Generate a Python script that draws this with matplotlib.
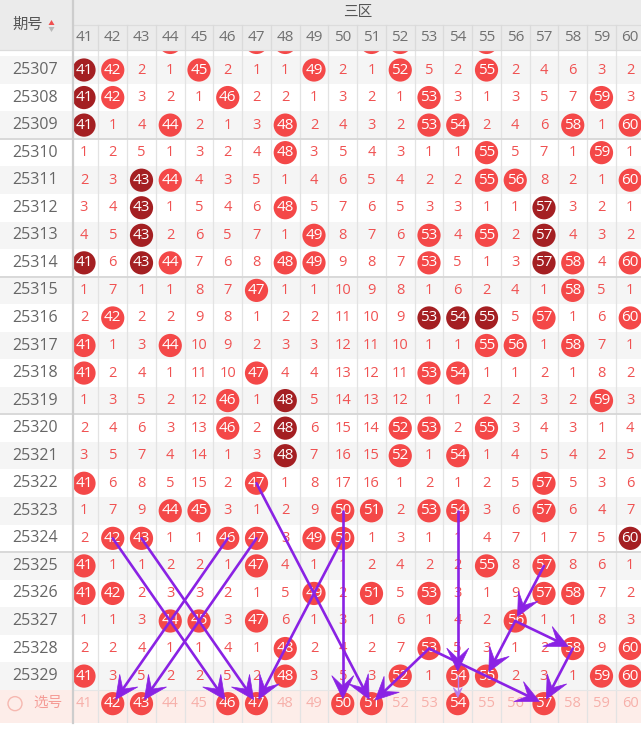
import matplotlib
matplotlib.use('Agg')
import matplotlib.pyplot as plt
from matplotlib.patches import Rectangle, Circle, Polygon
import numpy as np

plt.rcParams['font.family'] = ['Open Sans', 'Noto Sans CJK SC', 'DejaVu Sans']

# ---------------- data ----------------
numbers = list(range(41, 61))
periods = list(range(25307, 25330))
rows = [
    [41, 42, 2, 1, 45, 2, 1, 1, 49, 2, 1, 52, 5, 2, 55, 2, 4, 6, 3, 2],
    [41, 42, 3, 2, 1, 46, 2, 2, 1, 3, 2, 1, 53, 3, 1, 3, 5, 7, 59, 3],
    [41, 1, 4, 44, 2, 1, 3, 48, 2, 4, 3, 2, 53, 54, 2, 4, 6, 58, 1, 60],
    [1, 2, 5, 1, 3, 2, 4, 48, 3, 5, 4, 3, 1, 1, 55, 5, 7, 1, 59, 1],
    [2, 3, 43, 44, 4, 3, 5, 1, 4, 6, 5, 4, 2, 2, 55, 56, 8, 2, 1, 60],
    [3, 4, 43, 1, 5, 4, 6, 48, 5, 7, 6, 5, 3, 3, 1, 1, 57, 3, 2, 1],
    [4, 5, 43, 2, 6, 5, 7, 1, 49, 8, 7, 6, 53, 4, 55, 2, 57, 4, 3, 2],
    [41, 6, 43, 44, 7, 6, 8, 48, 49, 9, 8, 7, 53, 5, 1, 3, 57, 58, 4, 60],
    [1, 7, 1, 1, 8, 7, 47, 1, 1, 10, 9, 8, 1, 6, 2, 4, 1, 58, 5, 1],
    [2, 42, 2, 2, 9, 8, 1, 2, 2, 11, 10, 9, 53, 54, 55, 5, 57, 1, 6, 60],
    [41, 1, 3, 44, 10, 9, 2, 3, 3, 12, 11, 10, 1, 1, 55, 56, 1, 58, 7, 1],
    [41, 2, 4, 1, 11, 10, 47, 4, 4, 13, 12, 11, 53, 54, 1, 1, 2, 1, 8, 2],
    [1, 3, 5, 2, 12, 46, 1, 48, 5, 14, 13, 12, 1, 1, 2, 2, 3, 2, 59, 3],
    [2, 4, 6, 3, 13, 46, 2, 48, 6, 15, 14, 52, 53, 2, 55, 3, 4, 3, 1, 4],
    [3, 5, 7, 4, 14, 1, 3, 48, 7, 16, 15, 52, 1, 54, 1, 4, 5, 4, 2, 5],
    [41, 6, 8, 5, 15, 2, 47, 1, 8, 17, 16, 1, 2, 1, 2, 5, 57, 5, 3, 6],
    [1, 7, 9, 44, 45, 3, 1, 2, 9, 50, 51, 2, 53, 54, 3, 6, 57, 6, 4, 7],
    [2, 42, 43, 1, 1, 46, 47, 3, 49, 50, 1, 3, 1, 1, 4, 7, 1, 7, 5, 60],
    [41, 1, 1, 2, 2, 1, 47, 4, 1, 1, 2, 4, 2, 2, 55, 8, 57, 8, 6, 1],
    [41, 42, 2, 3, 3, 2, 1, 5, 49, 2, 51, 5, 53, 3, 1, 9, 57, 58, 7, 2],
    [1, 1, 3, 44, 45, 3, 47, 6, 1, 3, 1, 6, 1, 4, 2, 56, 1, 1, 8, 3],
    [2, 2, 4, 1, 1, 4, 1, 48, 2, 4, 2, 7, 53, 5, 3, 1, 2, 58, 9, 60],
    [41, 3, 5, 2, 2, 5, 2, 48, 3, 5, 3, 52, 1, 54, 55, 2, 3, 1, 59, 60],
]
dark_hits = [
    (25307, 41), (25308, 41), (25309, 41), (25311, 43), (25312, 43),
    (25313, 43), (25314, 41), (25314, 43), (25312, 57), (25313, 57),
    (25314, 57), (25316, 53), (25316, 54), (25316, 55), (25319, 48),
    (25320, 48), (25321, 48), (25324, 60),
]
partial_period = 25306
partial_hits = [44, 47, 48, 51, 52, 55]
select_period = 25330
selected = [42, 43, 46, 47, 50, 51, 54, 57]
arrows = [
    ((25324, 42), (25330, 46)),
    ((25324, 43), (25330, 47)),
    ((25324, 46), (25330, 42)),
    ((25324, 47), (25330, 43)),
    ((25322, 47), (25330, 51)),
    ((25324, 50), (25330, 47)),
    ((25323, 50), (25330, 50)),
    ((25323, 54), (25329, 54)),
    ((25328, 53), (25330, 51)),
    ((25328, 53), (25330, 57)),
    ((25325, 57), (25327, 56)),
    ((25327, 56), (25329, 55)),
    ((25327, 56), (25328, 58)),
    ((25328, 58), (25330, 57)),
]
thin_arrows = [((25329, 54), (25330, 54))]

# ---------------- geometry / style ----------------
W, H = 641, 729
X_LEFT = 72.5
COL_W = 28.75
X41 = 84.0
ROW_H = 27.55
Y0 = 70.0
HEAD_B = 50.0
R = 11.6
LIGHT = '#f44848'
DARK = '#a41f22'
MISS = '#f05252'
PURPLE = '#8a22e4'

def cx(n):
    return X41 + (n - 41) * COL_W

def cy(p):
    return Y0 + (p - 25307) * ROW_H

fig = plt.figure(figsize=(W / 100, H / 100), dpi=100)
ax = fig.add_axes([0, 0, 1, 1])
ax.set_xlim(0, W)
ax.set_ylim(H, 0)
ax.axis('off')

# row backgrounds
for p in [partial_period] + periods:
    c = '#f5f5f5' if (p - 25307) % 2 == 0 else 'white'
    ax.add_patch(Rectangle((0, cy(p) - ROW_H / 2), W, ROW_H, fc=c, ec='none', zorder=0))
sel_top = cy(select_period) - ROW_H / 2
sel_bot = 723
ax.add_patch(Rectangle((0, sel_top), W, sel_bot - sel_top, fc='#fdede9', ec='none', zorder=0))

# vertical separators
for n in numbers:
    xb = cx(n) + COL_W / 2
    ax.plot([xb, xb], [HEAD_B, sel_bot], color='#e3e3e3', lw=0.9, zorder=1)

# group lines
for p in [25309, 25314, 25319, 25324]:
    yb = cy(p) + ROW_H / 2
    ax.plot([0, W], [yb, yb], color='#d6d6d6', lw=1.3, zorder=1)
ax.plot([0, W], [sel_top, sel_top], color='#e6e6e6', lw=0.8, zorder=1)

# cells
dark_set = set(dark_hits)
for p, vals in zip(periods, rows):
    y = cy(p)
    for n, v in zip(numbers, vals):
        x = cx(n)
        if v == n:
            col = DARK if (p, n) in dark_set else LIGHT
            ax.add_patch(Circle((x, y), R, fc=col, ec='none', zorder=2))
            ax.text(x, y, str(v), color='white', fontsize=11, ha='center',
                    va='center', zorder=3)
        else:
            ax.text(x, y, str(v), color=MISS, fontsize=10.5, ha='center',
                    va='center', zorder=3)

for n in partial_hits:
    ax.add_patch(Circle((cx(n), cy(partial_period)), R, fc=LIGHT, ec='none', zorder=2))

# selection row
ys = cy(select_period)
for n in numbers:
    x = cx(n)
    if n in selected:
        ax.add_patch(Circle((x, ys), R, fc=LIGHT, ec='none', zorder=2))
        ax.text(x, ys, str(n), color='white', fontsize=11, ha='center', va='center', zorder=3)
    else:
        ax.text(x, ys, str(n), color='#f7b0aa', fontsize=10.5, ha='center', va='center', zorder=3)

# arrows
def draw_arrow(a, b, lw, color, L, Wd, shrink):
    x1, y1 = cx(a[1]), cy(a[0])
    x2, y2 = cx(b[1]), cy(b[0])
    d = np.array([x2 - x1, y2 - y1], dtype=float)
    u = d / np.hypot(*d)
    nrm = np.array([-u[1], u[0]])
    tip = np.array([x2, y2]) - shrink * u
    notch = tip - 0.55 * L * u
    ax.plot([x1, notch[0]], [y1, notch[1]], color=color, lw=lw,
            solid_capstyle='round', zorder=6)
    pts = [tip, tip - L * u + Wd * nrm, notch, tip - L * u - Wd * nrm]
    ax.add_patch(Polygon(pts, closed=True, fc=color, ec=color, lw=0.5, zorder=6))

for a, b in arrows:
    draw_arrow(a, b, 1.9, PURPLE, 23, 11, 5)
for a, b in thin_arrows:
    draw_arrow(a, b, 1.0, '#b77cf0', 10, 4.5, 6)

# left column overlay
for p in periods:
    c = '#f5f5f5' if (p - 25307) % 2 == 0 else 'white'
    ax.add_patch(Rectangle((0, cy(p) - ROW_H / 2), X_LEFT, ROW_H, fc=c, ec='none', zorder=7))
    ax.text(35, cy(p), str(p), color='#666666', fontsize=11.5, ha='center',
            va='center', zorder=8)
ax.add_patch(Rectangle((0, sel_top), X_LEFT, sel_bot - sel_top, fc='#fdede9', ec='none', zorder=7))
ax.add_patch(Circle((15, ys), 7, fc='none', ec='#f6b8b0', lw=1.0, zorder=8))
ax.text(48, ys, '选号', color='#f59b95', fontsize=10.5, ha='center', va='center', zorder=8)
for p in [25309, 25314, 25319, 25324]:
    yb = cy(p) + ROW_H / 2
    ax.plot([0, X_LEFT], [yb, yb], color='#d6d6d6', lw=1.3, zorder=8)
ax.add_patch(Rectangle((0, sel_bot), W, H - sel_bot, fc='white', ec='none', zorder=7))

# header
ax.add_patch(Rectangle((0, 0), W, HEAD_B, fc='#ebebeb', ec='none', zorder=10))
ax.plot([X_LEFT, W], [25, 25], color='#dcdcdc', lw=0.9, zorder=11)
ax.plot([0, W], [HEAD_B, HEAD_B], color='#dcdcdc', lw=0.9, zorder=11)
for n in numbers:
    ax.text(cx(n), 37.5, str(n), color='#707070', fontsize=11, ha='center',
            va='center', zorder=11)
    xb = cx(n) + COL_W / 2
    ax.plot([xb, xb], [25, HEAD_B], color='#dadada', lw=0.9, zorder=11)
ax.text((X_LEFT + W) / 2 + 1, 12.5, '三区', color='#555555', fontsize=10.5,
        ha='center', va='center', zorder=11)
ax.text(28, 25.5, '期号', color='#555555', fontsize=11, ha='center', va='center', zorder=11)
ax.add_patch(Polygon([(48.5, 25), (54.5, 25), (51.5, 20)], closed=True, fc='#f05050', ec='none', zorder=11))
ax.add_patch(Polygon([(48.5, 27), (54.5, 27), (51.5, 32)], closed=True, fc='#b8b8b8', ec='none', zorder=11))

# thick left border
ax.plot([X_LEFT, X_LEFT], [0, sel_bot], color='#cdcdcd', lw=1.6, zorder=12)

fig.savefig('out.png', dpi=100)
